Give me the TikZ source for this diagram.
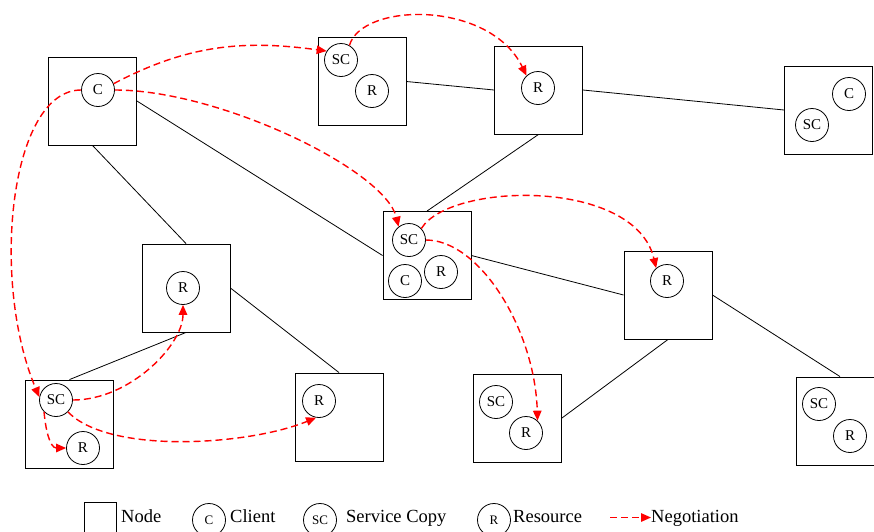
\documentclass[tikz,border=0pt]{standalone}
\usepackage{fontspec}
\setmainfont{Liberation Serif}
\usetikzlibrary{arrows.meta}
\begin{document}
\begin{tikzpicture}[x=1pt,y=1pt,
  netbox/.style={draw, line width=0.9pt, minimum width=88pt, minimum height=88pt, inner sep=0pt},
  ent/.style={draw, circle, line width=0.8pt, minimum size=33pt, inner sep=0pt, font=\fontsize{15}{15}\selectfont},
  lgent/.style={ent, font=\fontsize{13}{13}\selectfont},
  link/.style={line width=0.8pt},
  nego/.style={draw=red, line width=1.4pt, dash pattern=on 7pt off 4pt, -{Triangle[length=10pt,width=8.5pt,fill=red]}},
  lgtext/.style={anchor=base west, inner sep=0pt, font=\fontsize{18.5}{18.5}\selectfont}
]
\useasboundingbox (0,0) rectangle (874,-531);
\clip (0,0) rectangle (874,-531);

% network nodes
\node[netbox] (boxA) at (92.5,-101) {};
\node[netbox] (boxB) at (362,-81.5) {};
\node[netbox] (boxC) at (538.5,-90) {};
\node[netbox] (boxD) at (828.5,-110) {};
\node[netbox] (boxE) at (427,-255.5) {};
\node[netbox] (boxF) at (668,-295) {};
\node[netbox] (boxG) at (186,-288) {};
\node[netbox] (boxH) at (69.5,-424) {};
\node[netbox] (boxI) at (339,-417) {};
\node[netbox] (boxJ) at (517.5,-418) {};
\node[netbox] (boxK) at (840,-421) {};

% entities
\node[ent] (cA) at (98,-90) {C};
\node[ent] (scB) at (341,-60) {SC};
\node[ent] (rB) at (372,-91) {R};
\node[ent] (rC) at (538,-88) {R};
\node[ent] (cD) at (849,-94) {C};
\node[ent] (scD) at (812,-125) {SC};
\node[ent] (scE) at (409,-240) {SC};
\node[ent] (cE) at (405,-281) {C};
\node[ent] (rE) at (441,-272) {R};
\node[ent] (rF) at (667,-281) {R};
\node[ent] (rG) at (183,-288) {R};
\node[ent] (scH) at (56,-400) {SC};
\node[ent] (rH) at (83,-448) {R};
\node[ent] (rI) at (319,-401) {R};
\node[ent] (scJ) at (496,-402) {SC};
\node[ent] (rJ) at (526,-433) {R};
\node[ent] (scK) at (819,-404) {SC};
\node[ent] (rK) at (850,-436) {R};

% links
\draw[link] (boxA.south) -- (boxG.north);
\draw[link] (boxA.east) -- (boxE.west);
\draw[link] (boxB.east) -- (boxC.west);
\draw[link] (boxC.east) -- (boxD.west);
\draw[link] (boxC.south) -- (boxE.north);
\draw[link] (boxE.east) -- (boxF.west);
\draw[link] (boxF.east) -- (boxK.north);
\draw[link] (boxF.south) -- (boxJ.east);
\draw[link] (boxG.south) -- (boxH.north);
\draw[link] (boxG.east) -- (boxI.north);

% negotiations
\draw[nego] (cA.west) .. controls (10,-90) and (-10,-280) .. (scH.170);
\draw[nego] (cA.22) .. controls (189,-44) and (245,-40) .. (scB.148);
\draw[nego] (cA.east) .. controls (220,-90) and (385,-170) .. (scE.128);
\draw[nego] (scB.60) .. controls (362,-2) and (490,0) .. (rC.133);
\draw[nego] (scE.43) .. controls (450,-182) and (635,-178) .. (rF.130);
\draw[nego] (scE.east) .. controls (480,-240) and (535,-330) .. (rJ.47);
\draw[nego] (scH.east) .. controls (130,-400) and (183,-345) .. (rG.south);
\draw[nego] (scH.-45) .. controls (110,-455) and (250,-445) .. (rI.-100);
\draw[nego] (scH.-135) to[out=-85, in=180] (rH.west);

% legend
\node[draw, line width=0.9pt, minimum width=32pt, minimum height=32pt, inner sep=0pt] (lgbox) at (100,-518) {};
\node[lgtext] (lgboxt) at (121,-522.5) {Node};
\node[lgent] (lgc) at (209,-520) {C};
\node[lgtext] (lgct) at (230,-522.5) {Client};
\node[lgent] (lgsc) at (320,-520) {SC};
\node[lgtext] (lgsct) at (346,-522.5) {Service Copy};
\node[lgent] (lgr) at (494,-520) {R};
\node[lgtext] (lgrt) at (513,-522.5) {Resource};
\coordinate (lga) at (610,-517.5);
\node[lgtext] (lgnt) at (651,-522.5) {Negotiation};
\draw[nego] (lga) -- (lgnt.west |- lga);
\end{tikzpicture}
\end{document}
